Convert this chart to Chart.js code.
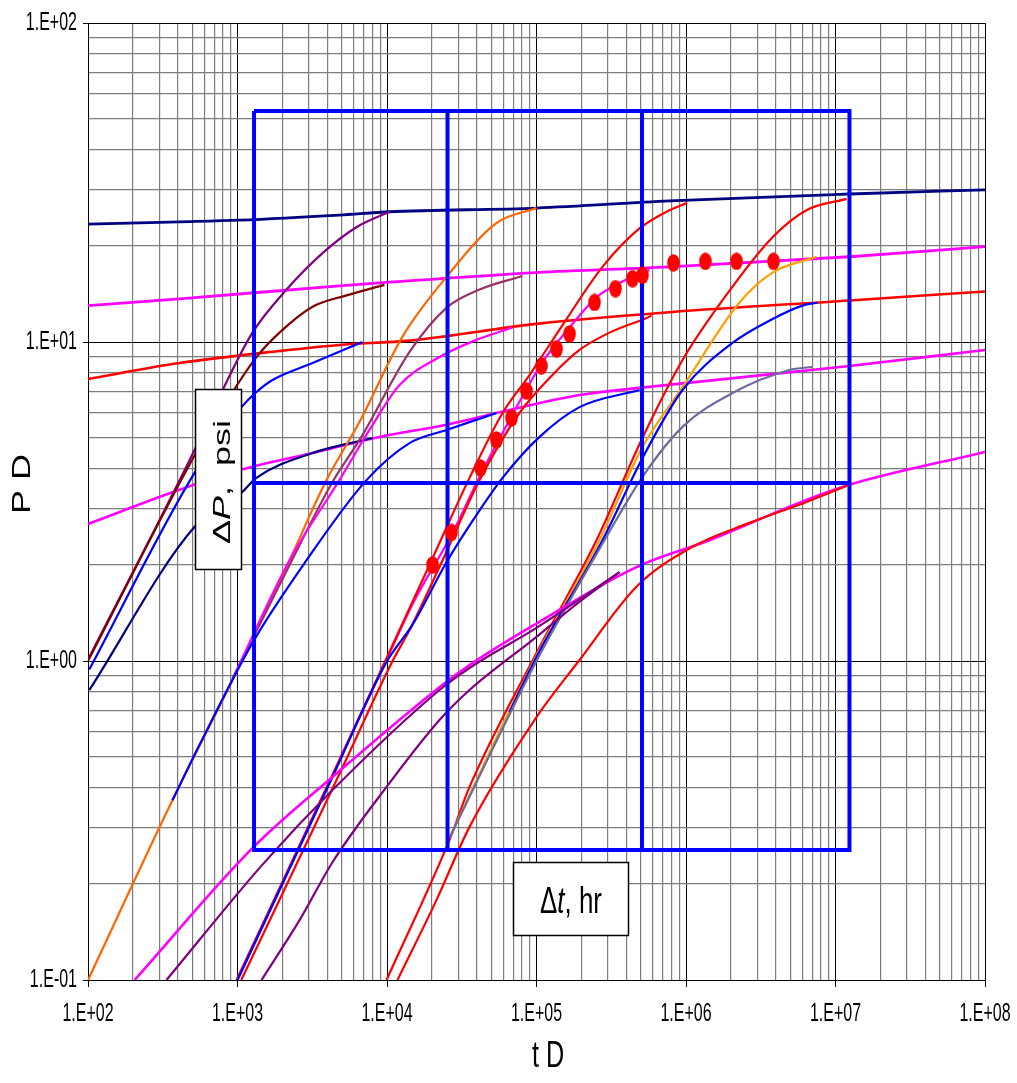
<!DOCTYPE html>
<html>
<head>
<meta charset="utf-8">
<script src="https://cdn.jsdelivr.net/npm/chart.js@4.4.1/dist/chart.umd.min.js"></script>
<style>
  html, body { margin: 0; padding: 0; background: #fff; }
  #wrap { width: 1017px; height: 1083px; }
</style>
</head>
<body>
<div id="wrap"><canvas id="typeCurves" width="1017" height="1083"></canvas></div>
<script>
// Axis decades (tick labels are drawn only here)
const xDecades = [1e2, 1e3, 1e4, 1e5, 1e6, 1e7, 1e8];
const yDecades = [0.1, 1, 10, 100];

// Late-time curves, [tD, PD]
const navyTop = [[100, 23.4], [409, 23.8], [1031, 24.1], [4807, 25.0], [10400, 25.6], [1e5, 26.3], [7.76e5, 27.7], [1.24e7, 29.1], [1e8, 30.0]];
const magentaUpper = [[100, 13.0], [409, 13.65], [4807, 15.0], [10400, 15.4], [1e5, 16.5], [7.76e5, 17.2], [1.24e7, 18.5], [1e8, 19.9]];
const redMid = [[100, 7.66], [409, 8.59], [1909, 9.37], [4807, 9.79], [14150, 10.1], [1e5, 11.4], [7.76e5, 12.4], [1.24e7, 13.5], [1e8, 14.4]];
const magentaMid = [[100, 2.69], [409, 3.44], [1031, 3.97], [3178, 4.49], [8905, 5.04], [25000, 5.5], [53970, 5.99], [1.94e5, 6.82], [4.886e5, 7.18], [1.24e7, 8.41], [1e8, 9.44]];
const magentaLow = [[205, 0.1], [1259, 0.259], [4318, 0.433], [22440, 0.828], [35650, 0.971], [1e5, 1.31], [4.665e5, 1.97], [1.435e6, 2.39], [6.39e6, 3.2], [1.24e7, 3.57], [1e8, 4.52]];

// Group 1 (storage curves starting near tD = 1E+02, PD = 1)
const purpleG1 = [[100, 1.01], [515, 4.58], [795, 7.07], [1259, 10.7], [2127, 14.6], [3706, 19.0], [6246, 22.9], [10400, 25.6]];
const maroonG1 = [[100, 1.0], [515, 4.4], [927, 6.97], [1339, 8.97], [1909, 10.7], [3178, 12.9], [5352, 14.0], [9613, 15.1]];
const blueG1 = [[102, 0.94], [515, 3.88], [1063, 6.25], [1339, 6.97], [1714, 7.6], [3178, 8.59], [6849, 10.0]];
const navyG1 = [[102, 0.81], [515, 2.63], [1063, 3.37], [1339, 3.75], [3178, 4.49], [7993, 5.0]];

// Group 2
const orangeG2 = [[100, 0.1], [367, 0.366], [927, 0.872], [2229, 2.07], [3939, 3.69], [6540, 5.61], [12700, 10.4], [25000, 16.0], [53970, 23.6], [1e5, 26.3]];
const mauveG2 = [[927, 0.88], [2229, 2.0], [4318, 3.64], [6742, 5.04], [14150, 9.31], [25000, 12.8], [41590, 14.6], [80560, 16.1]];
const magentaG2 = [[927, 0.88], [2229, 2.07], [4807, 3.69], [7634, 5.3], [12130, 7.33], [22440, 8.97], [38480, 10.1], [69000, 11.1]];
const blueG2 = [[367, 0.366], [557, 0.546], [1259, 1.14], [2897, 2.07], [7291, 3.69], [14150, 4.82], [25000, 5.3], [53970, 5.99]];

// Group 3
const redAG3 = [[985, 0.1], [4318, 0.44], [9930, 1.02], [19230, 2.0], [35650, 3.75], [59290, 5.99], [89760, 7.88], [149400, 11.3], [276300, 17.2], [488600, 22.7], [775900, 25.9], [1.02e6, 27.3]];
const redBG3 = [[1060, 0.1], [4700, 0.433], [10900, 1.0], [14150, 1.25], [22440, 1.97], [41590, 3.69], [76900, 5.99], [127900, 7.88], [194000, 9.44], [307600, 10.7], [544500, 11.9], [587800, 12.1]];
const magentaG3 = [[1000, 0.1], [9930, 1.01], [15290, 1.55], [27430, 2.52], [41590, 3.78], [65930, 5.69], [109800, 8.65], [166400, 11.1], [251900, 13.8], [358800, 15.3], [511700, 16.5], [570200, 16.8]];
const blueG3 = [[1000, 0.1], [4318, 0.433], [9930, 0.993], [14820, 1.3], [25000, 2.04], [39700, 2.87], [59290, 3.75], [104800, 5.04], [194000, 6.25], [488600, 7.07]];

// Group 4
const redG4 = [[9930, 0.1], [26190, 0.275], [35650, 0.403], [1e5, 1.06], [251900, 2.39], [503700, 4.93], [948000, 8.78], [1.752e6, 13.5], [3.79e6, 21.3], [6.39e6, 25.9], [1.186e7, 28.1]];
const orangeG4 = [[26190, 0.279], [1e5, 1.04], [263800, 2.39], [511700, 4.69], [948000, 7.22], [2.28e6, 13.3], [3.79e6, 16.5], [7.46e6, 18.5]];
const blueG4 = [[65930, 0.692], [1e5, 1.03], [276300, 2.39], [511700, 4.33], [948000, 7.07], [2.046e6, 9.93], [3.79e6, 11.8], [6.01e6, 13.0], [7.58e6, 13.3]];
const grayG4 = [[26190, 0.279], [1e5, 1.0], [284900, 2.39], [511700, 3.78], [948000, 5.42], [2.046e6, 6.92], [4.92e6, 8.17], [7.01e6, 8.35]];

// Lower family
const redLow = [[11760, 0.1], [21420, 0.178], [35650, 0.302], [1e5, 0.667], [194000, 1.007], [466500, 1.71], [1.105e6, 2.28], [2.66e6, 2.71], [6.39e6, 3.15], [1.24e7, 3.57]];
const purpleA = [[335, 0.1], [1469, 0.23], [4318, 0.394], [22440, 0.811], [35650, 0.951], [1e5, 1.27], [358800, 1.9]];
const purpleB = [[1448, 0.1], [2601, 0.154], [4318, 0.234], [9930, 0.403], [22440, 0.653], [35650, 0.811], [1e5, 1.19], [166400, 1.45], [358800, 1.9]];

// Field data (dt, dP plotted on the same grid)
const fieldT = [20140, 26980, 42200, 53970, 68070, 85700, 107900, 136100, 166400, 244500, 337500, 438500, 511700, 824500, 1.349e6, 2.178e6, 3.846e6];
const fieldP = [2.0, 2.53, 4.03, 4.93, 5.78, 7.02, 8.41, 9.51, 10.6, 13.3, 14.7, 15.8, 16.2, 17.7, 17.9, 17.9, 17.9];

// Match grid overlay
const frameT = [1290, 1.24e7];
const frameP = [0.2556, 53];
const splitT = [25400, 5.08e5];
const splitP = 3.614;

const curves = [
  { d: purpleA, c: '#800080' },
  { d: purpleB, c: '#800080' },
  { d: redLow, c: '#ff0000' },
  { d: magentaLow, c: '#ff00ff', w: 2.6 },
  { d: grayG4, c: '#6b6b9c' },
  { d: blueG4, c: '#0000ff' },
  { d: orangeG4, c: '#ffa000' },
  { d: redG4, c: '#ff0000' },
  { d: blueG3, c: '#0000ff' },
  { d: redBG3, c: '#ff0000' },
  { d: redAG3, c: '#ff0000' },
  { d: magentaG3, c: '#ff00ff' },
  { d: blueG2, c: '#0000ff' },
  { d: magentaG2, c: '#ff00ff' },
  { d: mauveG2, c: '#993366' },
  { d: orangeG2, c: '#ff6600' },
  { d: navyG1, c: '#000080' },
  { d: blueG1, c: '#0000ff' },
  { d: maroonG1, c: '#800000' },
  { d: purpleG1, c: '#800080' },
  { d: magentaMid, c: '#ff00ff', w: 2.6 },
  { d: redMid, c: '#ff0000', w: 2.6 },
  { d: magentaUpper, c: '#ff00ff', w: 2.8 },
  { d: navyTop, c: '#000080', w: 2.8 }
];

const toXY = arr => arr.map(p => ({ x: p[0], y: p[1] }));

function isDecade(v) {
  const l = Math.log10(v);
  return Math.abs(l - Math.round(l)) < 1e-6;
}

function sci(v) {
  const e = Math.round(Math.log10(v));
  return '1.E' + (e < 0 ? '-' : '+') + String(Math.abs(e)).padStart(2, '0');
}

// 1..9 x 10^n grid positions between the decades
function gridValues(decades) {
  const out = [];
  decades.forEach((d, i) => {
    out.push(d);
    if (i < decades.length - 1) {
      for (let m = 2; m <= 9; m++) out.push(d * m);
    }
  });
  return out;
}

// red dot, drawn a bit taller than wide like the source
const dot = document.createElement('canvas');
dot.width = 13;
dot.height = 18;
(function () {
  const g = dot.getContext('2d');
  g.fillStyle = '#ff0000';
  g.beginPath();
  g.ellipse(6.5, 9, 6.3, 8.8, 0, 0, Math.PI * 2);
  g.fill();
})();

const datasets = [];

datasets.push({
  data: fieldT.map((t, i) => ({ x: t, y: fieldP[i] })),
  showLine: false,
  pointStyle: dot,
  pointRadius: 8,
  order: 0
});

const frame = [[frameT[0], frameP[1]], [frameT[1], frameP[1]], [frameT[1], frameP[0]], [frameT[0], frameP[0]], [frameT[0], frameP[1]]];
const overlay = [frame,
  [[splitT[0], frameP[1]], [splitT[0], frameP[0]]],
  [[splitT[1], frameP[1]], [splitT[1], frameP[0]]],
  [[frameT[0], splitP], [frameT[1], splitP]]];
overlay.forEach(seg => datasets.push({
  data: toXY(seg),
  borderColor: '#0000ff',
  borderWidth: 4,
  tension: 0,
  pointRadius: 0,
  borderJoinStyle: 'miter',
  order: 1
}));

curves.forEach((cv, i) => datasets.push({
  data: toXY(cv.d),
  borderColor: cv.c,
  borderWidth: cv.w || 2.2,
  cubicInterpolationMode: 'monotone',
  pointRadius: 0,
  order: 2 + i
}));

const FONT = "'Liberation Sans', Arial, sans-serif";

// the source picture is squeezed sideways, so text is drawn narrow (sx < 1)
function drawRuns(ctx, runs, cx, cy, size, angle, sx, align) {
  ctx.save();
  ctx.translate(cx, cy);
  ctx.scale(sx, 1);
  ctx.rotate(angle);
  ctx.fillStyle = '#000';
  ctx.textBaseline = 'middle';
  ctx.textAlign = 'left';
  let total = 0;
  const widths = runs.map(r => {
    ctx.font = r[1] + size + 'px ' + FONT;
    const w = ctx.measureText(r[0]).width;
    total += w;
    return w;
  });
  let x = align === 'right' ? -total : -total / 2;
  runs.forEach((r, i) => {
    ctx.font = r[1] + size + 'px ' + FONT;
    ctx.fillText(r[0], x, 0);
    x += widths[i];
  });
  ctx.restore();
}

const labelsPlugin = {
  id: 'labels',
  afterDraw(chart) {
    const ctx = chart.ctx;
    const xs = chart.scales.x;
    const ys = chart.scales.y;
    ctx.save();
    // decade tick labels
    xDecades.forEach(v => drawRuns(ctx, [[sci(v), '']], xs.getPixelForValue(v), 1014, 25, 0, 0.64));
    yDecades.forEach(v => drawRuns(ctx, [[sci(v), '']], 77, ys.getPixelForValue(v), 25, 0, 0.64, 'right'));
    // delta P box
    ctx.fillStyle = '#fff';
    ctx.strokeStyle = '#000';
    ctx.lineWidth = 1.5;
    ctx.fillRect(195.5, 389.5, 46, 180);
    ctx.strokeRect(195.5, 389.5, 46, 180);
    drawRuns(ctx, [['\u0394', ''], ['P', 'italic '], [',  psi', '']], 223, 482, 36, -Math.PI / 2, 0.68);
    // delta t box
    ctx.fillStyle = '#fff';
    ctx.fillRect(513.5, 862.5, 115, 73);
    ctx.strokeRect(513.5, 862.5, 115, 73);
    drawRuns(ctx, [['\u0394', ''], ['t', 'italic '], [', hr', '']], 571, 903, 36, 0, 0.72);
    // axis titles
    drawRuns(ctx, [['P D', '']], 23, 484, 36, -Math.PI / 2, 0.7);
    drawRuns(ctx, [['t D', '']], 548, 1057, 36, 0, 0.7);
    ctx.restore();
  }
};

const gridOpts = len => ({
  color: c => (isDecade(c.tick.value) ? '#000' : '#7c7c7c'),
  lineWidth: c => (isDecade(c.tick.value) ? 1 : 1.2),
  tickLength: len,
  tickColor: c => (isDecade(c.tick.value) ? '#000' : 'rgba(0,0,0,0)')
});

new Chart(document.getElementById('typeCurves'), {
  type: 'line',
  data: { datasets: datasets },
  options: {
    responsive: false,
    devicePixelRatio: 1,
    animation: false,
    events: [],
    layout: { padding: { top: 23, right: 32, left: 0, bottom: 0 } },
    plugins: { legend: { display: false }, tooltip: { enabled: false } },
    scales: {
      x: {
        type: 'logarithmic',
        min: 1e2,
        max: 1e8,
        afterBuildTicks: s => { s.ticks = gridValues(xDecades).map(v => ({ value: v, major: isDecade(v) })); },
        afterFit: s => { s.height = 103; s.paddingLeft = 0; s.paddingRight = 0; },
        ticks: { display: false, autoSkip: false },
        grid: gridOpts(7),
        border: { color: '#000', width: 1 }
      },
      y: {
        type: 'logarithmic',
        min: 0.1,
        max: 100,
        afterBuildTicks: s => { s.ticks = gridValues(yDecades).map(v => ({ value: v, major: isDecade(v) })); },
        afterFit: s => { s.width = 88; s.paddingTop = 0; s.paddingBottom = 0; },
        ticks: { display: false, autoSkip: false },
        grid: gridOpts(5),
        border: { color: '#000', width: 1 }
      }
    }
  },
  plugins: [labelsPlugin]
});
</script>
</body>
</html>
